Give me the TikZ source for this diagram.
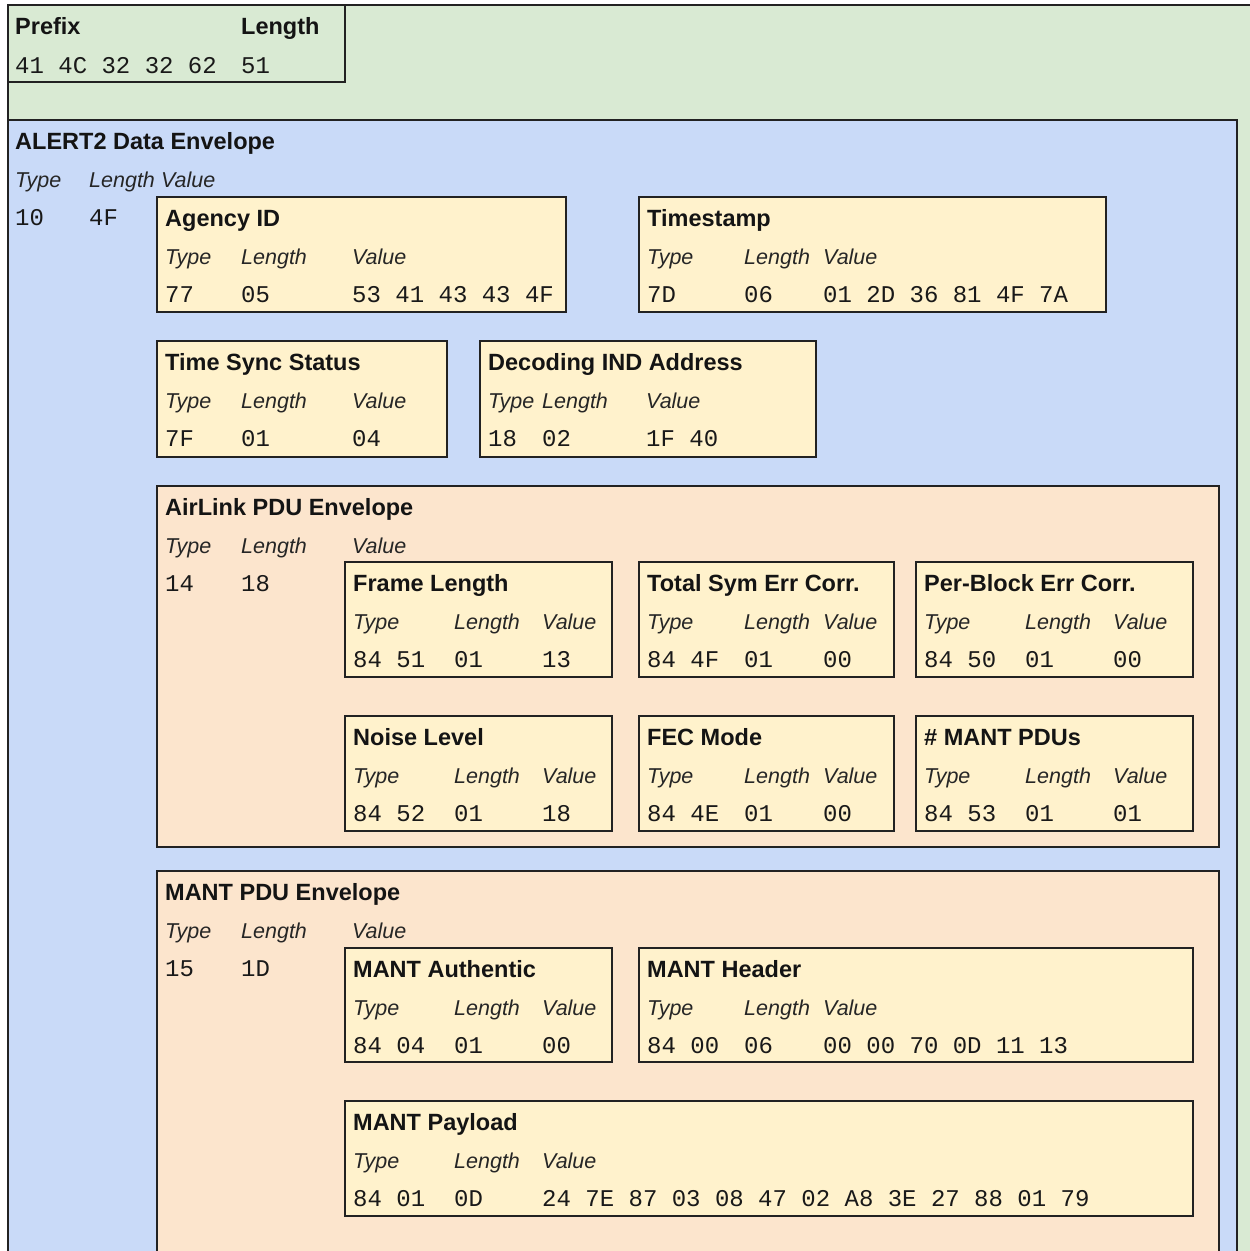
\documentclass[tikz,border=0pt]{standalone}
\usepackage{fontspec}
\setmainfont{Liberation Sans}
\newfontfamily\hexfont{Liberation Mono}

\definecolor{envGreen}{HTML}{D9EAD3}
\definecolor{envBlue}{HTML}{C9DAF8}
\definecolor{envOrange}{HTML}{FCE5CD}
\definecolor{fieldYellow}{HTML}{FFF2CC}
\definecolor{edge}{HTML}{222222}

\tikzset{
  frame/.style={draw=edge, line width=2pt, anchor=north west, inner sep=0pt, outer sep=0pt},
  greenbox/.style={frame, fill=envGreen},
  bluebox/.style={frame, fill=envBlue},
  orangebox/.style={frame, fill=envOrange},
  yellowbox/.style={frame, fill=fieldYellow},
  ttl/.style={anchor=base west, inner sep=0pt, text=black!92,
    font=\fontsize{23.5}{28}\selectfont\bfseries},
  lbl/.style={anchor=base west, inner sep=0pt, text=black!85,
    font=\fontsize{21.5}{26}\selectfont\itshape},
  hex/.style={anchor=base west, inner sep=0pt, text=black!90,
    font=\hexfont\fontsize{24}{28}\selectfont},
}

% a framed field: name, style, left, top, width, height
\newcommand\tlvbox[6]{%
  \node[#2, minimum width=#5pt, minimum height=#6pt] (#1) at (#3,#4) {};}

% the three text rows of a field:
% name, type column, top, length column, value column, title, type, length, value
\newcommand\tlvtext[9]{%
  \node[ttl] (#1-title) at (#2,#3+29) {#6};
  \node[lbl] (#1-ltype) at (#2,#3+67) {Type};
  \node[lbl] (#1-llen)  at (#4,#3+67) {Length};
  \node[lbl] (#1-lval)  at (#5,#3+67) {Value};
  \node[hex] (#1-vtype) at (#2,#3+105) {#7};
  \node[hex] (#1-vlen)  at (#4,#3+105) {#8};
  \node[hex] (#1-vval)  at (#5,#3+105) {#9};}

\begin{document}
\begin{tikzpicture}[x=1pt, y=-1pt]
\useasboundingbox (0,0) rectangle (1250,1251);
\fill[white] (0,0) rectangle (1250,1251);
\clip (0,0) rectangle (1250,1251);

% outer frame and prefix
\tlvbox{frame}{greenbox}{8}{5}{1300}{1300}
\tlvbox{prefix}{greenbox}{8}{5}{337}{77}
\node[ttl] (prefix-title) at (15,34) {Prefix};
\node[ttl] (prefix-len) at (241,34) {Length};
\node[hex] (prefix-bytes) at (15,73) {41 4C 32 32 62};
\node[hex] (prefix-lenval) at (241,73) {51};

% ALERT2 data envelope
\tlvbox{alert}{bluebox}{8}{120}{1229}{1200}
\tlvtext{alert}{15}{120}{89}{161}{ALERT2 Data Envelope}{10}{4F}{}

\tlvbox{agency}{yellowbox}{157}{197}{409}{115}
\tlvtext{agency}{165}{197}{241}{352}{Agency ID}{77}{05}{53 41 43 43 4F}

\tlvbox{stamp}{yellowbox}{639}{197}{467}{115}
\tlvtext{stamp}{647}{197}{744}{823}{Timestamp}{7D}{06}{01 2D 36 81 4F 7A}

\tlvbox{tsync}{yellowbox}{157}{341}{290}{116}
\tlvtext{tsync}{165}{341}{241}{352}{Time Sync Status}{7F}{01}{04}

\tlvbox{decind}{yellowbox}{480}{341}{336}{116}
\tlvtext{decind}{488}{341}{542}{646}{Decoding IND Address}{18}{02}{1F 40}

% AirLink PDU envelope
\tlvbox{airlink}{orangebox}{157}{486}{1062}{361}
\tlvtext{airlink}{165}{486}{241}{352}{AirLink PDU Envelope}{14}{18}{}

\tlvbox{framelen}{yellowbox}{345}{562}{267}{115}
\tlvtext{framelen}{353}{562}{454}{542}{Frame Length}{84 51}{01}{13}

\tlvbox{totsym}{yellowbox}{639}{562}{255}{115}
\tlvtext{totsym}{647}{562}{744}{823}{Total Sym Err Corr.}{84 4F}{01}{00}

\tlvbox{perblock}{yellowbox}{916}{562}{277}{115}
\tlvtext{perblock}{924}{562}{1025}{1113}{Per-Block Err Corr.}{84 50}{01}{00}

\tlvbox{noise}{yellowbox}{345}{716}{267}{115}
\tlvtext{noise}{353}{716}{454}{542}{Noise Level}{84 52}{01}{18}

\tlvbox{fec}{yellowbox}{639}{716}{255}{115}
\tlvtext{fec}{647}{716}{744}{823}{FEC Mode}{84 4E}{01}{00}

\tlvbox{nmant}{yellowbox}{916}{716}{277}{115}
\tlvtext{nmant}{924}{716}{1025}{1113}{\# MANT PDUs}{84 53}{01}{01}

% MANT PDU envelope
\tlvbox{mant}{orangebox}{157}{871}{1062}{500}
\tlvtext{mant}{165}{871}{241}{352}{MANT PDU Envelope}{15}{1D}{}

\tlvbox{mantauth}{yellowbox}{345}{948}{267}{114}
\tlvtext{mantauth}{353}{948}{454}{542}{MANT Authentic}{84 04}{01}{00}

\tlvbox{manthdr}{yellowbox}{639}{948}{554}{114}
\tlvtext{manthdr}{647}{948}{744}{823}{MANT Header}{84 00}{06}{00 00 70 0D 11 13}

\tlvbox{mantpay}{yellowbox}{345}{1101}{848}{115}
\tlvtext{mantpay}{353}{1101}{454}{542}{MANT Payload}{84 01}{0D}{24 7E 87 03 08 47 02 A8 3E 27 88 01 79}
\end{tikzpicture}
\end{document}
